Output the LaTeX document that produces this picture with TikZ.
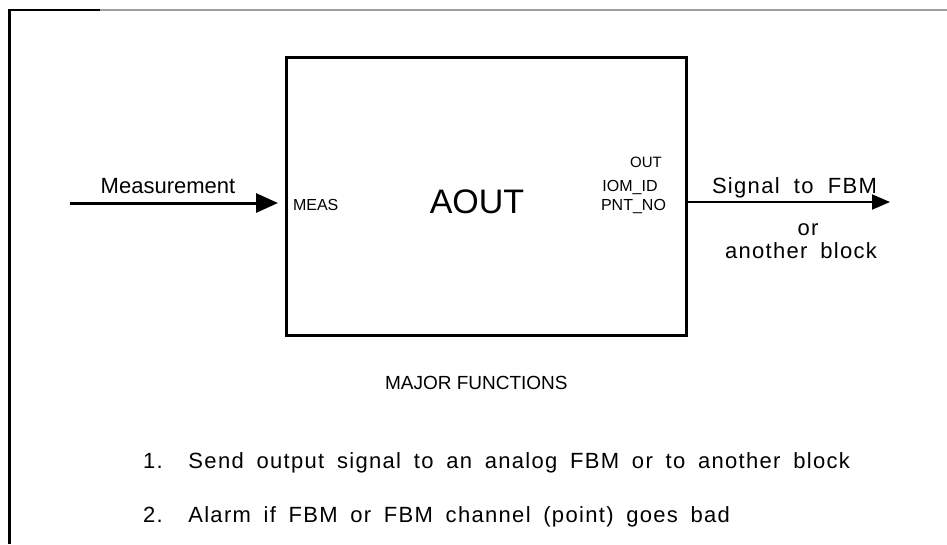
\documentclass[tikz,border=0pt]{standalone}
\usepackage{fontspec}
\setmainfont{Liberation Sans}
\newfontfamily\lsfont[LetterSpace=6]{Liberation Sans}
\usetikzlibrary{arrows.meta}
\newcommand{\fs}[1]{\fontsize{#1}{#1}\selectfont}
\begin{document}
\begin{tikzpicture}[x=1pt,y=-1pt,
  lbl/.style={inner sep=0pt,outer sep=0pt},
  blockbox/.style={draw,line width=3pt,minimum width=400pt,minimum height=278pt,inner sep=0pt},
  bigarrow/.style={line width=3pt,-{Triangle[length=22pt,width=19pt]}},
  outarrow/.style={line width=2pt,-{Triangle[length=18pt,width=15pt]}}]
\useasboundingbox (0,0) rectangle (947,544);
% frame
\draw[gray!75,line width=2.5pt] (9,10) -- (947,10);
\draw[black,line width=2.5pt] (9,10) -- (100,10);
\draw[black,line width=3pt] (9,9) -- (9,544);
% block
\node[blockbox] (aout) at (486.5,196.5) {};
\node[lbl,font=\fs{34}] (name) at (477,202) {AOUT};
\node[lbl,font=\fs{16},anchor=west] (meas) at (293,205) {MEAS};
\node[lbl,font=\fs{15}] (outp) at (646,162) {OUT};
\node[lbl,font=\fs{16}] (iom) at (630,187) {IOM\_ID};
\node[lbl,font=\fs{16}] (pnt) at (633.5,206) {PNT\_NO};
% input arrow
\coordinate (min) at (70,203);
\draw[bigarrow,shorten >=7pt] (min) -- (min -| aout.west);
\node[lbl,font=\fs{22},anchor=base] (mlab) at (168,193) {Measurement};
% output arrow
\coordinate (mout) at (890,202);
\draw[outarrow] (mout -| aout.east) -- (mout);
\node[lbl,font=\lsfont\fs{22},anchor=base west] (sig) at (712,193) {\makebox[165pt][s]{Signal to FBM}};
\node[lbl,font=\lsfont\fs{22},anchor=base] (or) at (808,235) {or};
\node[lbl,font=\lsfont\fs{22},anchor=base west] (anb) at (725,258) {\makebox[152pt][s]{another block}};
% functions
\node[lbl,font=\fs{19},anchor=base west] (maj) at (385,389) {MAJOR FUNCTIONS};
\node[lbl,font=\lsfont\fs{22},anchor=base west] (f1) at (143,468) {\makebox[707pt][s]{1. Send output signal to an analog FBM or to another block}};
\node[lbl,font=\lsfont\fs{22},anchor=base west] (f2) at (143,522) {\makebox[587pt][s]{2. Alarm if FBM or FBM channel (point) goes bad}};
\end{tikzpicture}
\end{document}
